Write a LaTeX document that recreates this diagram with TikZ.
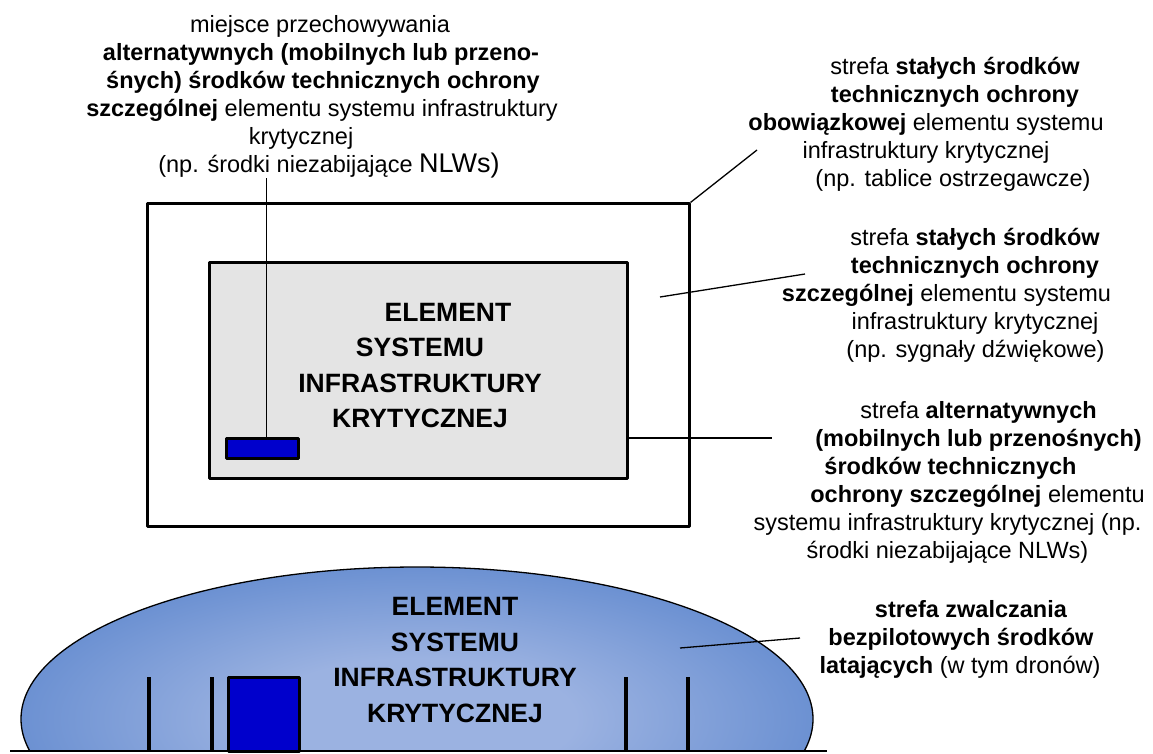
\documentclass[tikz,border=0pt]{standalone}
\usepackage{fontspec}
\setmainfont{Liberation Sans}
\usetikzlibrary{positioning}
\definecolor{boxgray}{RGB}{228,228,228}
\definecolor{doorblue}{RGB}{0,0,204}
\definecolor{domeedge}{RGB}{72,120,198}
\definecolor{domemid}{RGB}{108,145,210}
\definecolor{domelight}{RGB}{155,178,225}
\pgfdeclareradialshading{domeshade}{\pgfpoint{0bp}{0bp}}{color(0bp)=(domelight); color(10bp)=(domelight); color(25bp)=(domemid); color(40bp)=(domeedge); color(50bp)=(domeedge)}
\tikzset{
	zone/.style={draw, line width=3pt, inner sep=0pt, line join=round},
	leader/.style={line width=1.3pt},
	post/.style={line width=3.4pt},
	ground/.style={line width=2.4pt},
	dome/.style={draw, line width=1.3pt, shading=domeshade},
	bigtext/.style={font=\bfseries\fontsize{26.5}{35.5}\selectfont, align=center, inner sep=0pt},
	note/.style={font=\fontsize{23.5}{28}\selectfont, align=center, inner sep=0pt},
}

\begin{document}
\begin{tikzpicture}[x=1pt, y=-1pt]
	\useasboundingbox (0,0) rectangle (1153,753);

	\node[zone, minimum width=542, minimum height=322.7] (outer) at (418,365.3) {};
	\node[zone, fill=boxgray, minimum width=418.7, minimum height=216.3] (inner) at (418.35,370.15) {};
	\node[zone, fill=doorblue, minimum width=71.3, minimum height=20.5] (storage) at (262.4,448.7) {};
	\node[bigtext] (boxtext) at (420,365.3) {\hspace*{56pt}ELEMENT\\SYSTEMU\\INFRASTRUKTURY\\KRYTYCZNEJ};

	\begin{scope}
		\clip (0,0) rectangle (1153,751);
		\path[dome] (417,719) ellipse [x radius=396, y radius=152];
	\end{scope}
	\foreach \px in {149,212,626,688}
		\draw[post] (\px,677) -- (\px,751);
	\node[zone, fill=doorblue, minimum width=70.7, minimum height=74] (door) at (263.65,714) {};
	\coordinate (gleft) at (10,751);
	\coordinate (gright) at (827,751);
	\draw[ground] (gleft) -- (gright);
	\node[bigtext] (dometext) at (455,660) {ELEMENT\\SYSTEMU\\INFRASTRUKTURY\\KRYTYCZNEJ};

	\node[note] (storlabel) at (301,96.5) {\hspace*{38pt}miejsce przechowywania\\
		\hspace*{40pt}\textbf{alternatywnych (mobilnych lub przeno-}\\
		\hspace*{44pt}\textbf{śnych) środków technicznych ochrony}\\
		\hspace*{42pt}\textbf{szczególnej} elementu systemu infrastruktury\\
		krytycznej\\
		\hspace*{56pt}(np. środki niezabijające {\fontsize{27}{28}\selectfont NLWs)}};
	\node[note] (obowlabel) at (926,124.5) {\hspace*{58pt}strefa \textbf{stałych środków}\\
		\hspace*{58pt}\textbf{technicznych ochrony}\\
		\textbf{obowiązkowej} elementu systemu\\
		infrastruktury krytycznej\\
		\hspace*{54pt}(np. tablice ostrzegawcze)};
	\node[note] (szczlabel) at (946.5,295.5) {\hspace*{57pt}strefa \textbf{stałych środków}\\
		\hspace*{57pt}\textbf{technicznych ochrony}\\
		\textbf{szczególnej} elementu systemu\\
		\hspace*{57pt}infrastruktury krytycznej\\
		\hspace*{58pt}(np. sygnały dźwiękowe)};
	\node[note] (altlabel) at (947.5,482) {\hspace*{62pt}strefa \textbf{alternatywnych}\\
		\hspace*{62pt}\textbf{(mobilnych lub przenośnych)}\\
		\hspace*{6pt}\textbf{środków technicznych}\\
		\hspace*{60pt}\textbf{ochrony szczególnej} elementu\\
		systemu infrastruktury krytycznej (np.\\
		środki niezabijające NLWs)};
	\node[note] (dronlabel) at (960,639.5) {\hspace*{22pt}\textbf{strefa zwalczania}\\
		\hspace*{2pt}\textbf{bezpilotowych środków}\\
		\textbf{latających} (w tym dronów)};

	\coordinate (storend) at (266.5,178);
	\coordinate (obowend) at (757,150);
	\coordinate (szczpt) at (660,297);
	\coordinate (szczend) at (805,274);
	\coordinate (altend) at (772,438);
	\coordinate (dronpt) at (680,648);
	\coordinate (dronend) at (800,638);

	\draw[leader] (storend) -- (storend |- storage.north);
	\draw[leader] (outer.north east) -- (obowend);
	\draw[leader] (szczpt) -- (szczend);
	\draw[leader] (inner.east |- altend) -- (altend);
	\draw[leader] (dronpt) -- (dronend);
\end{tikzpicture}
\end{document}
